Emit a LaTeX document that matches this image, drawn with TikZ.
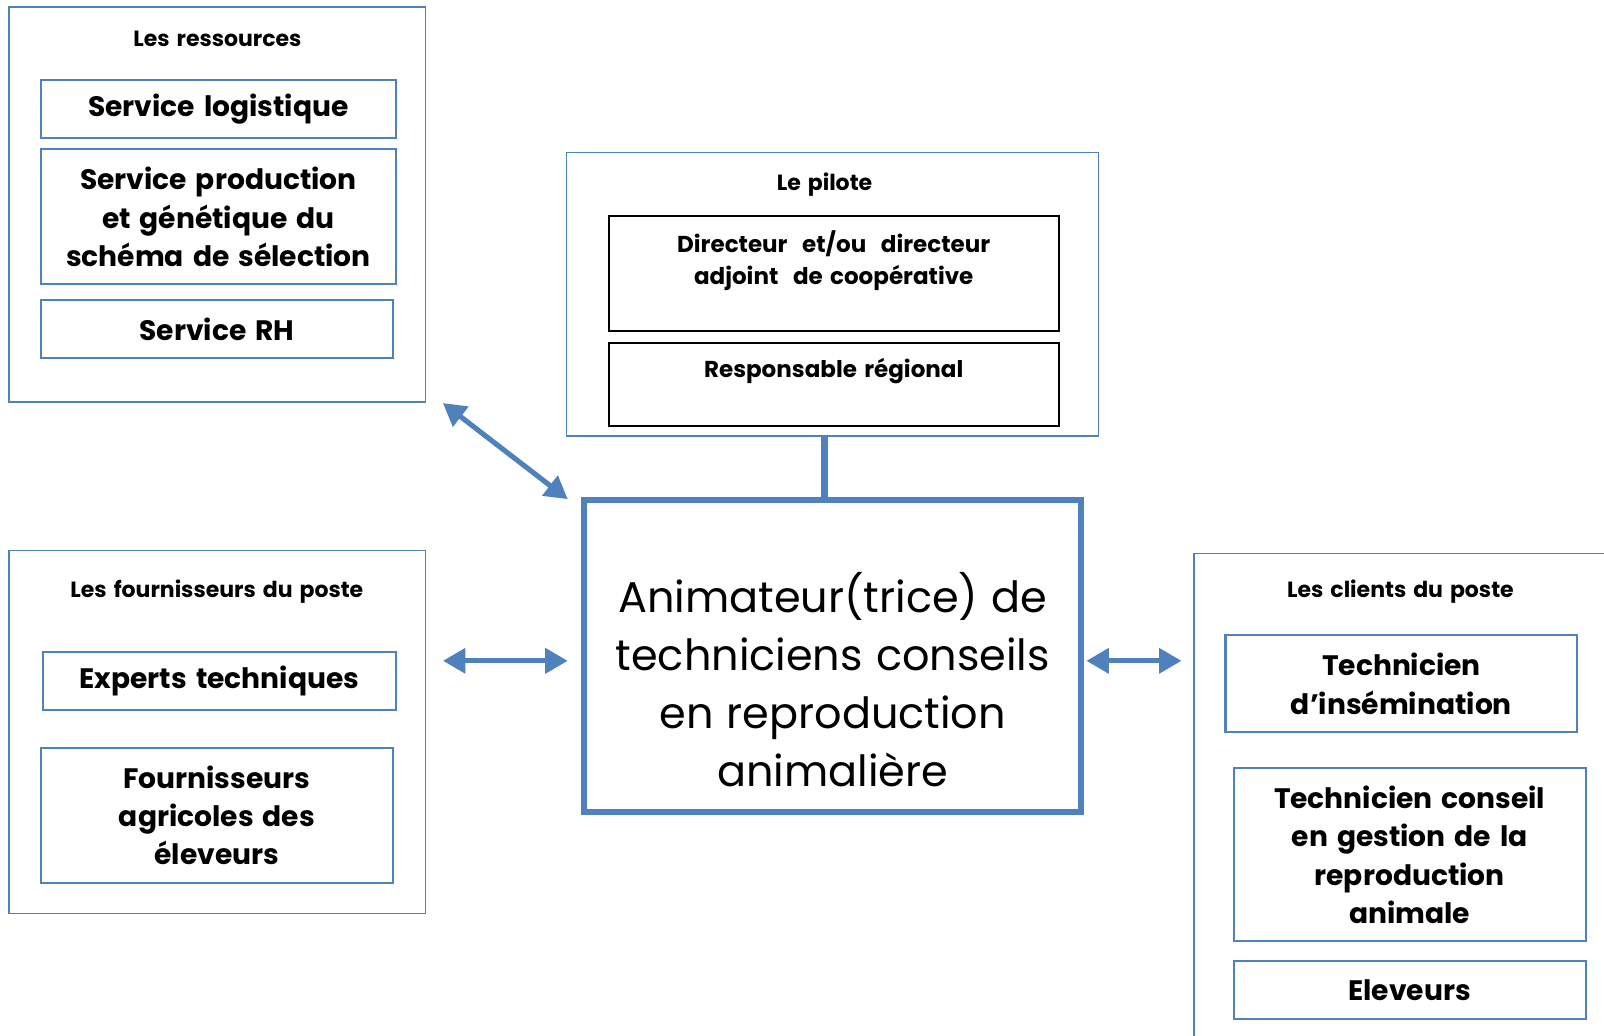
\documentclass[tikz,border=0pt]{standalone}
\usepackage{fontspec}
\setmainfont{Poppins}[WordSpace=1.5]
\newfontfamily\mainf{Poppins}[WordSpace=1.15]
\usetikzlibrary{arrows.meta}
\definecolor{ob}{HTML}{4F81BD}
\newcommand\fb{27.5}
\newcommand\ft{21.5}
\newcommand\fp{22.5}
\newcommand\fm{42}
\begin{document}
\begin{tikzpicture}[x=1pt,y=-1pt,
  every node/.style={outer sep=0pt},
  outerbox/.style={draw=ob,line width=1.5pt,inner sep=0pt},
  inbox/.style={draw=ob,line width=2pt,inner sep=0pt,align=center,font=\bfseries\fontsize{\fb}{37.5}\selectfont},
  pbox/.style={draw=black,line width=2pt,inner sep=0pt},
  ttl/.style={inner sep=0pt,font=\bfseries\fontsize{\ft}{22}\selectfont},
  ptxt/.style={inner sep=0pt,align=center,font=\bfseries\fontsize{\fp}{31}\selectfont},
  mainbox/.style={draw=ob,line width=6pt,inner sep=0pt},
  maintxt/.style={inner sep=0pt,align=center,font=\mainf\fontsize{\fm}{56.5}\selectfont},
  arr/.style={draw=ob,line width=5pt,{Triangle[length=22pt,width=24pt]}-{Triangle[length=22pt,width=24pt]}}
]
\useasboundingbox (0,0) rectangle (1568,1012);
% Les ressources
\node[outerbox,minimum width=407,minimum height=386] (res) at (212.5,200) {};
\node[ttl] (resT) at (212.5,38) {Les ressources};
\node[inbox,minimum width=347,minimum height=57] (logi) at (213.5,106.5) {Service logistique};
\node[inbox,minimum width=347,minimum height=132] (prod) at (213.5,212) {Service production\\et génétique du\\schéma de sélection};
\node[inbox,minimum width=344,minimum height=57] (rh) at (212,321.5) {Service RH};
% Le pilote
\node[outerbox,minimum width=520,minimum height=277] (pil) at (814,287.5) {};
\node[ttl] (pilT) at (806,180) {Le pilote};
\node[pbox,minimum width=440,minimum height=113] (dir) at (815,267.5) {};
\node[ptxt] (dirT) at (815,254.5) {Directeur~ et/ou~ directeur\\adjoint~~de coopérative};
\node[pbox,minimum width=440,minimum height=81] (resp) at (815,375.5) {};
\node[ptxt] (respT) at (815,362.5) {Responsable régional};
% main
\node[mainbox,minimum width=486,minimum height=305] (main) at (814,641.5) {};
\node[maintxt] (mainT) at (814,664.5) {Animateur(trice) de\\techniciens conseils\\en reproduction\\animalière};
% fournisseurs
\node[outerbox,minimum width=407,minimum height=355] (four) at (212.5,715.5) {};
\node[ttl] (fourT) at (212,578) {Les fournisseurs du poste};
\node[inbox,minimum width=345,minimum height=57] (exp) at (214.5,665.5) {Experts techniques};
\node[inbox,minimum width=344,minimum height=132] (fagr) at (212,797) {Fournisseurs\\agricoles des\\éleveurs};
% clients
\begin{scope}
\clip (0,0) rectangle (1568,1012);
\node[outerbox,minimum width=453,minimum height=519] (cli) at (1393.5,800.5) {};
\end{scope}
\node[ttl] (cliT) at (1369,578) {Les clients du poste};
\node[inbox,minimum width=344,minimum height=95] (tins) at (1370,668.5) {Technicien\\d’insémination};
\node[inbox,minimum width=344,minimum height=169] (tcons) at (1378,835.5) {Technicien conseil\\en gestion de la\\reproduction\\animale};
\node[inbox,minimum width=344,minimum height=57] (elev) at (1378,967.5) {Eleveurs};
% connectors
\draw[draw=ob,line width=6pt] ([xshift=-8]pil.south) -- ([xshift=-8]main.north);
\draw[arr] ([shift={(17,1)}]res.south east) -- ([shift={(-16,-1)}]main.north west);
\draw[arr] ([shift={(17,-69.5)}]four.east) -- ([shift={(-16,4.5)}]main.west);
\draw[arr] ([shift={(5,4.5)}]main.east) -- ([shift={(-12,-154.5)}]cli.west);
\end{tikzpicture}
\end{document}
